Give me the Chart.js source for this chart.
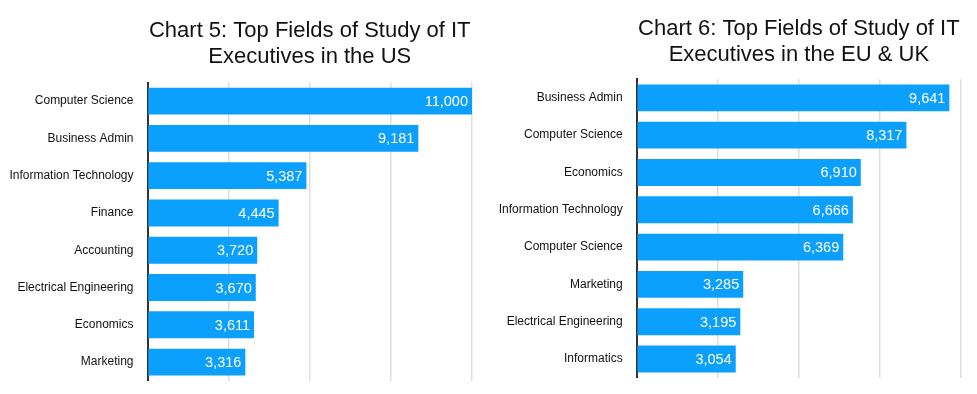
<!DOCTYPE html>
<html>
<head>
<meta charset="utf-8">
<script src="https://cdn.jsdelivr.net/npm/chart.js@4"></script>
<style>
  html, body { margin: 0; padding: 0; background: #fff; overflow: hidden; }
  .wrap { display: flex; width: 977px; height: 394px; }
  canvas { display: block; }
</style>
</head>
<body>
<div class="wrap">
  <canvas id="usChart" width="488" height="394"></canvas>
  <canvas id="euChart" width="489" height="394"></canvas>
</div>
<script>
// US data
const usFields = ['Computer Science', 'Business Admin', 'Information Technology', 'Finance',
  'Accounting', 'Electrical Engineering', 'Economics', 'Marketing'];
const usCounts = [11000, 9181, 5387, 4445, 3720, 3670, 3611, 3316];

// EU & UK data
const euFields = ['Business Admin', 'Computer Science', 'Economics', 'Information Technology',
  'Computer Science', 'Marketing', 'Electrical Engineering', 'Informatics'];
const euCounts = [9641, 8317, 6910, 6666, 6369, 3285, 3195, 3054];

const usTitle = ['Chart 5: Top Fields of Study of IT', 'Executives in the US'];
const euTitle = ['Chart 6: Top Fields of Study of IT', 'Executives in the EU & UK'];

const FONT = 'Helvetica, Arial, "Liberation Sans", sans-serif';
const BLUE = '#0ba0fd';

// value labels drawn inside the end of each bar
const valueLabels = {
    id: 'valueLabels',
    afterDatasetsDraw(chart) {
        const ctx = chart.ctx;
        const meta = chart.getDatasetMeta(0);
        const data = chart.data.datasets[0].data;
        ctx.save();
        ctx.font = '14.5px ' + FONT;
        ctx.fillStyle = '#fff';
        ctx.textAlign = 'right';
        ctx.textBaseline = 'middle';
        meta.data.forEach((bar, i) => {
            ctx.fillText(data[i].toLocaleString('en-US'), bar.x - 4, bar.y + 1);
        });
        ctx.restore();
    }
};

function makeChart(id, labels, values, title, max, step, axisW, pad, titlePad) {
    return new Chart(document.getElementById(id), {
        type: 'bar',
        data: {
            labels: labels,
            datasets: [{
                data: values,
                backgroundColor: BLUE,
                borderWidth: 0,
                categoryPercentage: 0.8,
                barPercentage: 0.9
            }]
        },
        options: {
            indexAxis: 'y',
            responsive: false,
            animation: false,
            layout: { padding: pad },
            plugins: {
                legend: { display: false },
                tooltip: { enabled: false },
                title: {
                    display: true,
                    text: title,
                    fullSize: false,
                    color: '#111',
                    font: { family: FONT, size: 22, weight: 'normal', lineHeight: 1.2 },
                    padding: titlePad
                }
            },
            scales: {
                x: {
                    min: 0,
                    max: max,
                    afterFit(scale) { scale.height = 0; },
                    ticks: { display: false, stepSize: step },
                    grid: { color: '#dedede', lineWidth: 1.5, drawTicks: false },
                    border: { display: false }
                },
                y: {
                    afterFit(scale) {
                        scale.width = axisW;
                        scale.paddingTop = 0;
                        scale.paddingBottom = 0;
                    },
                    ticks: { color: '#111', padding: 14, font: { family: FONT, size: 12 } },
                    grid: { display: false, drawTicks: false },
                    border: { color: '#333', width: 2 }
                }
            }
        },
        plugins: [valueLabels]
    });
}

makeChart('usChart', usFields, usCounts, usTitle, 11000, 2750, 147.5,
    { left: 0, right: 16, top: 0, bottom: 13.3 }, { top: 17.5, bottom: 12.2 });
makeChart('euChart', euFields, euCounts, euTitle, 10000, 2500, 148.7,
    { left: 0, right: 16, top: 0, bottom: 16.3 }, { top: 15.5, bottom: 10.9 });
</script>
</body>
</html>
